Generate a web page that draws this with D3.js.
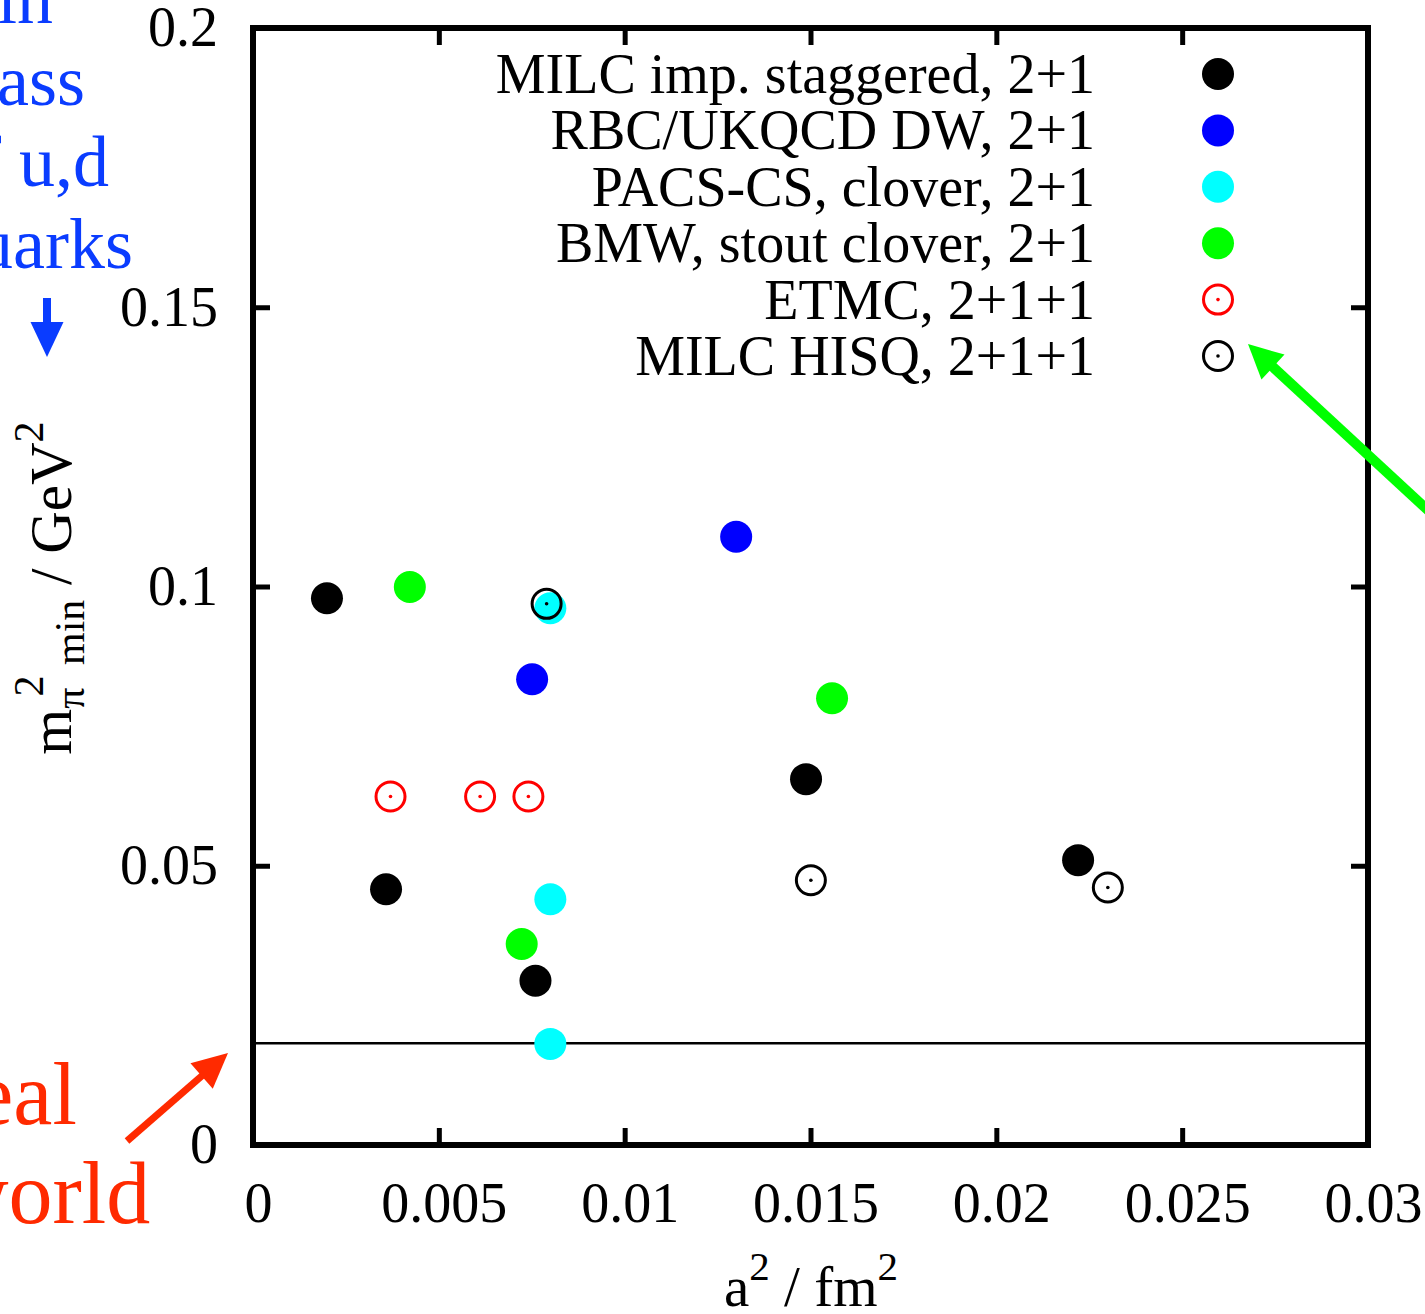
<!DOCTYPE html>
<html>
<head>
<meta charset="utf-8">
<script src="https://cdn.jsdelivr.net/npm/d3@7"></script>
<style>
  html, body { margin: 0; padding: 0; background: #fff; }
  svg { display: block; font-family: "Liberation Serif", "DejaVu Serif", serif; }
</style>
</head>
<body>
<svg id="chart" width="1425" height="1314"></svg>
<script>
// Lowest pion mass squared reached by each lattice collaboration vs. lattice spacing squared
const xTicks = [0, 0.005, 0.01, 0.015, 0.02, 0.025, 0.03];
const xTickLabels = ["0", "0.005", "0.01", "0.015", "0.02", "0.025", "0.03"];
const yTicks = [0, 0.05, 0.1, 0.15, 0.2];
const yTickLabels = ["0", "0.05", "0.1", "0.15", "0.2"];

const seriesNames = [
  "MILC imp. staggered, 2+1",
  "RBC/UKQCD DW, 2+1",
  "PACS-CS, clover, 2+1",
  "BMW, stout clover, 2+1",
  "ETMC, 2+1+1",
  "MILC HISQ, 2+1+1"
];
const seriesColors = ["#000000", "#0000ff", "#00ffff", "#00ff00", "#ff0000", "#000000"];
const seriesOpen = [false, false, false, false, true, true];

// [a^2 in fm^2, m_pi^2 in GeV^2]
const milcStaggered = [[0.00199, 0.0979], [0.00358, 0.0458], [0.0076, 0.0294], [0.01488, 0.0655], [0.0222, 0.0510]];
const rbcUkqcd = [[0.0130, 0.1089], [0.00751, 0.0834]];
const pacsCs = [[0.0080, 0.0961], [0.0080, 0.0440], [0.0080, 0.0181]];
const bmw = [[0.00422, 0.0999], [0.01558, 0.0800], [0.00723, 0.0360]];
const etmc = [[0.0037, 0.0624], [0.00611, 0.0624], [0.00741, 0.0624]];
const milcHisq = [[0.0079, 0.0969], [0.01501, 0.0474], [0.0230, 0.0461]];

// physical pion mass squared (0.135 GeV)^2
const physicalPionMass2 = 0.018225;

const allSeries = [milcStaggered, rbcUkqcd, pacsCs, bmw, etmc, milcHisq];

const svg = d3.select("#chart");
const plotLeft = 253, plotRight = 1368, plotTop = 28, plotBottom = 1145;
const x = d3.scaleLinear().domain([0, 0.03]).range([plotLeft, plotRight]);
const y = d3.scaleLinear().domain([0, 0.2]).range([plotBottom, plotTop]);

const FS = 56;
const tickLen = 17;

// axes with inward ticks, mirrored on top and right
const gx = svg.append("g").attr("transform", `translate(0,${plotBottom})`)
  .call(d3.axisBottom(x).tickValues(xTicks).tickSizeInner(-tickLen).tickSizeOuter(0)
    .tickPadding(37).tickFormat((d, i) => xTickLabels[i]));
gx.selectAll("text").attr("dx", 5);

const gy = svg.append("g").attr("transform", `translate(${plotLeft},0)`)
  .call(d3.axisLeft(y).tickValues(yTicks).tickSizeInner(-tickLen).tickSizeOuter(0)
    .tickPadding(35).tickFormat((d, i) => yTickLabels[i]));

const gt = svg.append("g").attr("transform", `translate(0,${plotTop})`)
  .call(d3.axisTop(x).tickValues(xTicks).tickSizeInner(-tickLen).tickSizeOuter(0).tickFormat(""));
const gr = svg.append("g").attr("transform", `translate(${plotRight},0)`)
  .call(d3.axisRight(y).tickValues(yTicks).tickSizeInner(-tickLen).tickSizeOuter(0).tickFormat(""));

[gx, gy, gt, gr].forEach(g => {
  g.select(".domain").remove();
  g.selectAll(".tick line").attr("stroke", "#000").attr("stroke-width", 5);
  g.selectAll(".tick text").attr("fill", "#000").attr("font-size", FS)
    .attr("font-family", "Liberation Serif");
});

// physical point line
svg.append("line")
  .attr("x1", x(0)).attr("x2", x(0.03))
  .attr("y1", y(physicalPionMass2)).attr("y2", y(physicalPionMass2))
  .attr("stroke", "#000").attr("stroke-width", 2.5);

// frame
svg.append("rect")
  .attr("x", plotLeft).attr("y", plotTop).attr("width", plotRight - plotLeft).attr("height", plotBottom - plotTop)
  .attr("fill", "none").attr("stroke", "#000").attr("stroke-width", 6);

function drawMarker(g, cx, cy, color, open) {
  if (open) {
    g.append("circle").attr("cx", cx).attr("cy", cy).attr("r", 14.5)
      .attr("fill", "none").attr("stroke", color).attr("stroke-width", 3);
    g.append("circle").attr("cx", cx).attr("cy", cy).attr("r", 1.8).attr("fill", color);
  } else {
    g.append("circle").attr("cx", cx).attr("cy", cy).attr("r", 16).attr("fill", color);
  }
}

// data points
const pts = svg.append("g");
allSeries.forEach((data, si) => {
  const g = pts.append("g");
  data.forEach(d => drawMarker(g, x(d[0]), y(d[1]), seriesColors[si], seriesOpen[si]));
});

// legend
const legend = svg.append("g");
seriesNames.forEach((name, i) => {
  const ry = 74 + i * 56.4;
  legend.append("text").attr("x", 1095).attr("y", ry + 19)
    .attr("text-anchor", "end").attr("font-size", FS).attr("fill", "#000").text(name);
  drawMarker(legend, 1218, ry, seriesColors[i], seriesOpen[i]);
});

// axis titles
const xt = svg.append("text").attr("x", 811).attr("y", 1306)
  .attr("text-anchor", "middle").attr("font-size", 57).attr("fill", "#000");
xt.append("tspan").text("a");
xt.append("tspan").attr("font-size", 41).attr("dy", -26).text("2");
xt.append("tspan").attr("dy", 26).text(" / fm");
xt.append("tspan").attr("font-size", 41).attr("dy", -26).text("2");

const yt = svg.append("text").attr("transform", "translate(71,588) rotate(-90)")
  .attr("text-anchor", "middle").attr("font-size", 59).attr("fill", "#000");
yt.append("tspan").text("m");
yt.append("tspan").attr("font-size", 42).attr("dy", 13).text("π");
yt.append("tspan").attr("font-size", 42).attr("dy", -41).attr("dx", -9).text("2");
yt.append("tspan").attr("font-size", 42).attr("dy", 41).text(" min");
yt.append("tspan").attr("dy", -13).text(" / GeV");
yt.append("tspan").attr("font-size", 42).attr("dy", -28).text("2");

// annotations
function arrow(x1, y1, x2, y2, color, width, headLen, headHalf) {
  const a = Math.atan2(y2 - y1, x2 - x1);
  const bx = x2 - headLen * Math.cos(a), by = y2 - headLen * Math.sin(a);
  svg.append("line").attr("x1", x1).attr("y1", y1).attr("x2", bx + 3 * Math.cos(a)).attr("y2", by + 3 * Math.sin(a))
    .attr("stroke", color).attr("stroke-width", width);
  const px = -Math.sin(a) * headHalf, py = Math.cos(a) * headHalf;
  svg.append("path")
    .attr("d", `M${x2},${y2}L${bx + px},${by + py}L${bx - px},${by - py}Z`)
    .attr("fill", color);
}

const blueNote = ["min", "mass", "of u,d", "quarks"];
const redNote = ["real", "world"];

const bt = svg.append("g").attr("fill", "#0a3cff").attr("font-size", 72);
blueNote.forEach((t, i) => bt.append("text").attr("x", -59).attr("y", 23 + i * 81.7).text(t));
arrow(47, 298, 47, 357, "#0a3cff", 8, 35, 16.5);

const rt = svg.append("g").attr("fill", "#ff2a00").attr("font-size", 88);
redNote.forEach((t, i) => rt.append("text").attr("x", -55).attr("y", 1124 + i * 99).text(t));
arrow(127, 1141, 228, 1053, "#ff2a00", 7, 35, 17);

arrow(1445, 526, 1248, 344, "#00ff00", 10, 34, 17);
</script>
</body>
</html>
